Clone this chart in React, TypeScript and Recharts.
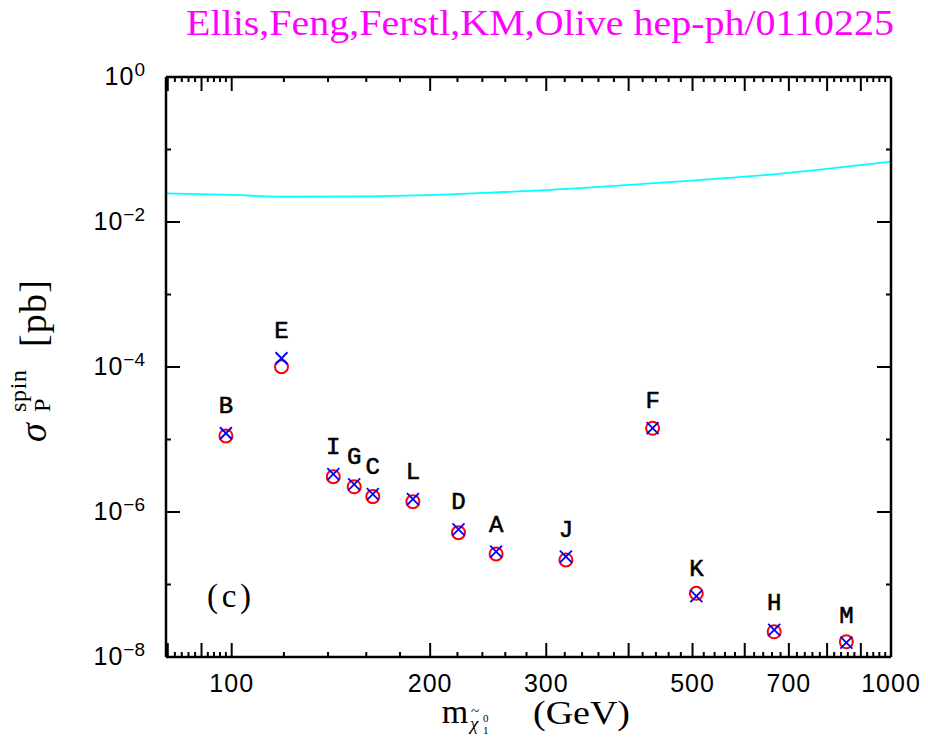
import React from "react";
import { ComposedChart, XAxis, YAxis, Line, Scatter } from "recharts";

// ---- data ----
const pointNames = ["B", "E", "I", "G", "C", "L", "D", "A", "J", "F", "K", "H", "M"];
const pointMass = [98, 119, 142.6, 153.4, 163.7, 188.3, 220.8, 251.8, 321.3, 434.9, 506.7, 665, 855.6];
const crossSigma = [1.22e-5, 1.32e-4, 3.34e-6, 2.41e-6, 1.77e-6, 1.5e-6, 5.77e-7, 2.84e-7, 2.42e-7, 1.43e-5, 6.93e-8, 2.36e-8, 1.58e-8];
const circleSigma = [1.12e-5, 1.01e-4, 3.07e-6, 2.23e-6, 1.63e-6, 1.39e-6, 5.19e-7, 2.64e-7, 2.18e-7, 1.43e-5, 7.57e-8, 2.23e-8, 1.62e-8];

const limitMass = [79.5, 100, 122, 160, 214, 247, 300, 417, 663, 1000];
const limitSigma = [0.0249, 0.0236, 0.0223, 0.0226, 0.0241, 0.0254, 0.0276, 0.0334, 0.0455, 0.068];

const xLabelTicks = [100, 200, 300, 500, 700, 1000];
const yTicks = [1e-8, 1e-7, 1e-6, 1e-5, 1e-4, 1e-3, 1e-2, 1e-1, 1];

const xTicks: number[] = [];
for (let v = 80; v < 100; v += 2) xTicks.push(v);
for (let v = 100; v <= 1000; v += 20) xTicks.push(v);

const crossData = pointNames.map((n, i) => ({ name: n, x: pointMass[i], y: crossSigma[i] }));
const circleData = pointNames.map((n, i) => ({ name: n, x: pointMass[i], y: circleSigma[i] }));
const limitData = limitMass.map((m, i) => ({ x: m, y: limitSigma[i] }));

const X_DOMAIN: [number, number] = [79.5, 1000];
const Y_DOMAIN: [number, number] = [1e-8, 1];

const isLongX = (v: number) => (v < 100 ? v % 10 === 0 : v % 100 === 0);
const expOf = (v: number) => Math.round(Math.log10(v));

const SANS = "Liberation Sans, Arial, sans-serif";
const SERIF = "Liberation Serif, Times New Roman, serif";

const XTickBottom = (props: any) => {
  const { x, y, payload } = props;
  const v = payload.value;
  const len = isLongX(v) ? 14 : 5;
  return (
    <g>
      <line x1={x} x2={x} y1={y} y2={y - len} stroke="#000" strokeWidth={2} />
      {xLabelTicks.includes(v) && (
        <text x={x} y={y + 35} textAnchor="middle" fontSize={25} letterSpacing={1} fontFamily={SANS} fill="#000">
          {v}
        </text>
      )}
    </g>
  );
};

const XTickTop = (props: any) => {
  const { x, y, payload } = props;
  const v = payload.value;
  const len = isLongX(v) ? 14 : 5;
  return <line x1={x} x2={x} y1={y} y2={y + len} stroke="#000" strokeWidth={2} />;
};

const YTickLeft = (props: any) => {
  const { x, y, payload } = props;
  const e = expOf(payload.value);
  const even = e % 2 === 0;
  const len = even ? 14 : 5;
  return (
    <g>
      <line x1={x} x2={x + len} y1={y} y2={y} stroke="#000" strokeWidth={2} />
      {even && (
        <text x={x - 21} y={y + 8} textAnchor="end" fontFamily={SANS} fill="#000">
          <tspan fontSize={25} letterSpacing={1}>10</tspan>
          <tspan fontSize={19} dy={-9}>{e === 0 ? "0" : "\u2212" + Math.abs(e)}</tspan>
        </text>
      )}
    </g>
  );
};

const YTickRight = (props: any) => {
  const { x, y, payload } = props;
  const e = expOf(payload.value);
  const len = e % 2 === 0 ? 14 : 5;
  return <line x1={x} x2={x - len} y1={y} y2={y} stroke="#000" strokeWidth={2} />;
};

const CircleShape = (props: any) => {
  const { cx, cy } = props;
  return <circle cx={cx} cy={cy} r={6.5} fill="none" stroke="#ff0000" strokeWidth={2} />;
};

const CrossShape = (props: any) => {
  const { cx, cy, payload } = props;
  const s = 6;
  return (
    <g>
      <line x1={cx - s} y1={cy - s} x2={cx + s} y2={cy + s} stroke="#0000ff" strokeWidth={1.8} />
      <line x1={cx - s} y1={cy + s} x2={cx + s} y2={cy - s} stroke="#0000ff" strokeWidth={1.8} />
      <text
        x={cx}
        y={cy - 20}
        textAnchor="middle"
        fontSize={24}
        fontFamily="Liberation Mono, Courier New, monospace"
        fill="#000"
        stroke="#000"
        strokeWidth={0.6}
      >
        {payload.name}
      </text>
    </g>
  );
};

const W = 912;
const H = 728;

export default function App() {
  const axisLine = { stroke: "#000", strokeWidth: 2.5 };
  return (
    <div style={{ position: "relative", width: W, height: H }}>
      <ComposedChart width={W} height={H} margin={{ top: 68, right: 28, bottom: 19, left: 78 }}>
        <XAxis
          dataKey="x"
          type="number"
          scale="log"
          domain={X_DOMAIN}
          allowDataOverflow
          ticks={xTicks}
          interval={0}
          tick={<XTickBottom />}
          tickLine={false}
          tickSize={0}
          tickMargin={0}
          axisLine={axisLine}
          height={60}
        />
        <XAxis
          xAxisId="top"
          orientation="top"
          dataKey="x"
          type="number"
          scale="log"
          domain={X_DOMAIN}
          allowDataOverflow
          ticks={xTicks}
          interval={0}
          tick={<XTickTop />}
          tickLine={false}
          tickSize={0}
          tickMargin={0}
          axisLine={axisLine}
          height={1}
        />
        <YAxis
          dataKey="y"
          type="number"
          scale="log"
          domain={Y_DOMAIN}
          allowDataOverflow
          ticks={yTicks}
          interval={0}
          tick={<YTickLeft />}
          tickLine={false}
          tickSize={0}
          tickMargin={0}
          axisLine={axisLine}
          width={80}
        />
        <YAxis
          yAxisId="right"
          orientation="right"
          dataKey="y"
          type="number"
          scale="log"
          domain={Y_DOMAIN}
          allowDataOverflow
          ticks={yTicks}
          interval={0}
          tick={<YTickRight />}
          tickLine={false}
          tickSize={0}
          tickMargin={0}
          axisLine={axisLine}
          width={1}
        />
        <Line
          data={limitData}
          dataKey="y"
          type="monotone"
          stroke="#00ffff"
          strokeWidth={1.8}
          dot={false}
          activeDot={false}
          isAnimationActive={false}
        />
        <Scatter data={circleData} dataKey="y" shape={<CircleShape />} isAnimationActive={false} />
        <Scatter data={crossData} dataKey="y" shape={<CrossShape />} isAnimationActive={false} />
      </ComposedChart>
      <svg
        width={W}
        height={H}
        style={{ position: "absolute", left: 0, top: 0, pointerEvents: "none" }}
      >
        <text x={178} y={27} fontSize={35} fontFamily={SERIF} fill="#ff00ff" textLength={708} lengthAdjust="spacingAndGlyphs">
          Ellis,Feng,Ferstl,KM,Olive hep-ph/0110225
        </text>
        <text x={199} y={599} fontSize={33} fontFamily={SERIF} fill="#000" textLength={44} lengthAdjust="spacing">
          (c)
        </text>
        {/* x-axis title */}
        <g fontFamily={SERIF} fill="#000">
          <text x={433.7} y={715.3} fontSize={34}>m</text>
          <text x={463} y={708} fontSize={15}>~</text>
          <text x={462} y={722} fontSize={19} fontStyle="italic">χ</text>
          <text x={475} y={714} fontSize={11}>0</text>
          <text x={475} y={726} fontSize={11}>1</text>
          <text x={525} y={716} fontSize={34} textLength={97} lengthAdjust="spacingAndGlyphs">(GeV)</text>
        </g>
        {/* y-axis title */}
        <g transform="translate(38,434) rotate(-90)" fontFamily={SERIF} fill="#000">
          <text x={0} y={0} fontSize={38} fontStyle="italic">σ</text>
          <text x={30} y={-20} fontSize={24} textLength={42} lengthAdjust="spacing">spin</text>
          <text x={30} y={4} fontSize={24}>P</text>
          <text x={95} y={0} fontSize={38} textLength={67} lengthAdjust="spacing">[pb]</text>
        </g>
      </svg>
    </div>
  );
}
